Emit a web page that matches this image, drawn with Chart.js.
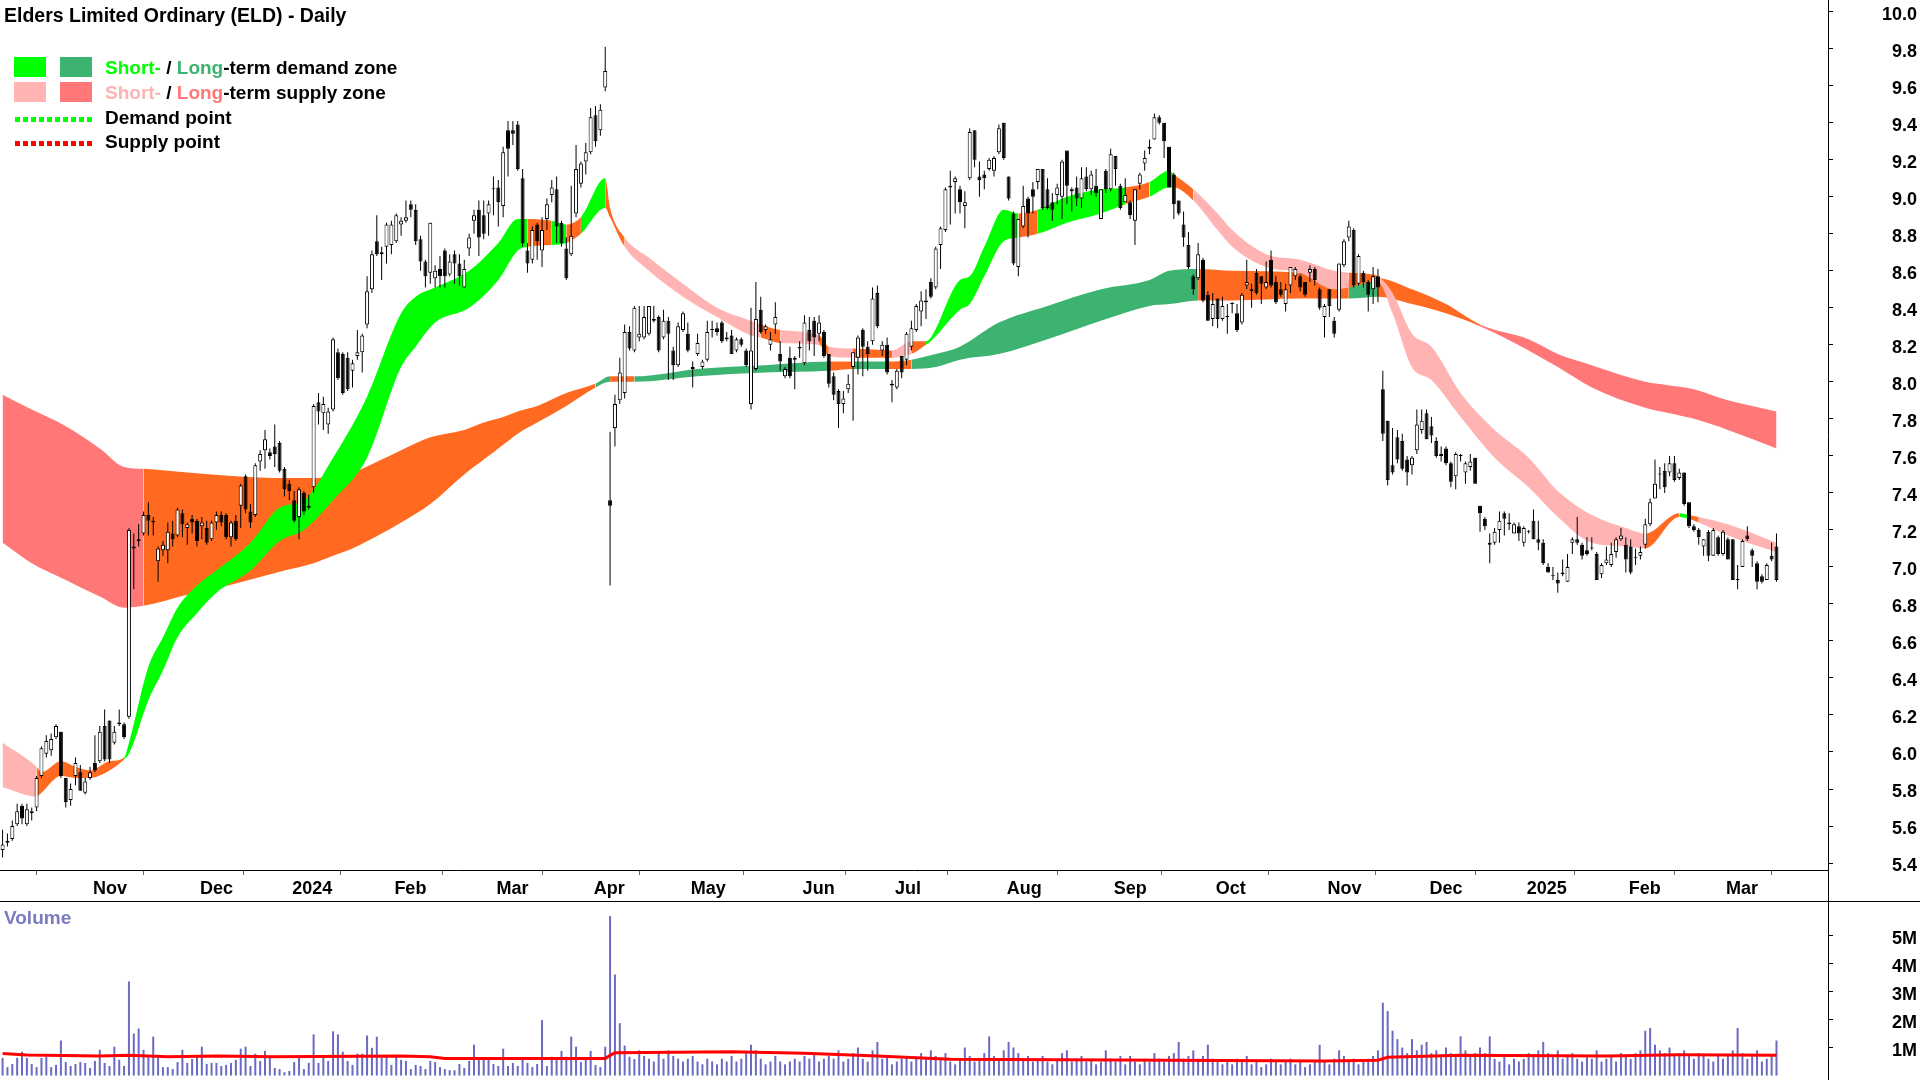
<!DOCTYPE html>
<html>
<head>
<meta charset="utf-8">
<title>Elders Limited Ordinary (ELD) - Daily</title>
<script src="https://cdn.jsdelivr.net/npm/chart.js@4.4.1/dist/chart.umd.min.js"></script>
<style>
  html, body { margin: 0; padding: 0; background: #fff; }
  body { width: 1920px; height: 1080px; position: relative; overflow: hidden;
         font-family: "Liberation Sans", Arial, sans-serif; font-weight: bold; color: #000; }
  canvas { display: block; }
  #pricePane { position: absolute; left: 0; top: 0; width: 1920px; height: 902px; }
  #volPane { position: absolute; left: 0; top: 902px; width: 1920px; height: 178px; }
  #sep { position: absolute; left: 0; top: 901px; width: 1920px; height: 1px; background: #000; }
  .txt { position: absolute; white-space: nowrap; }
  #title { left: 4px; top: 4px; font-size: 19.5px; line-height: 22px; }
  .sw { position: absolute; width: 32px; height: 20px; }
  .dots { position: absolute; left: 15px; width: 78px; height: 5px; }
  .leg { left: 105px; font-size: 19px; line-height: 20px; }
  #volLabel { left: 4px; top: 908px; font-size: 19px; line-height: 20px; color: #7b7bc0; }
</style>
</head>
<body>
<div id="pricePane"><canvas id="priceChart" width="1920" height="902"></canvas></div>
<div id="volPane"><canvas id="volChart" width="1920" height="178"></canvas></div>
<div id="sep"></div>

<div class="txt" id="title">Elders Limited Ordinary (ELD) - Daily</div>
<div class="sw" style="left:14px;top:57px;background:#00ff00"></div>
<div class="sw" style="left:60px;top:57px;background:#3cb371"></div>
<div class="sw" style="left:14px;top:82px;background:#ffb3b3"></div>
<div class="sw" style="left:60px;top:82px;background:#ff7777"></div>
<div class="dots" style="top:117px;background:repeating-linear-gradient(to right,#00ff00 0 5px,transparent 5px 8px)"></div>
<div class="dots" style="top:141px;background:repeating-linear-gradient(to right,#ff0000 0 5px,transparent 5px 8px)"></div>
<div class="txt leg" style="top:58px"><span style="color:#00ff00">Short-</span> / <span style="color:#3cb371">Long</span>-term demand zone</div>
<div class="txt leg" style="top:83px"><span style="color:#ffb3b3">Short-</span> / <span style="color:#ff7777">Long</span>-term supply zone</div>
<div class="txt leg" style="top:108px">Demand point</div>
<div class="txt leg" style="top:132px">Supply point</div>
<div class="txt" id="volLabel">Volume</div>

<script>
// daily candles, index 0 = first trading day shown (Oct 2023)
const opens = [
  5.47,5.51,5.53,5.61,5.71,5.61,5.67,5.70,5.87,5.99,
  6.01,6.08,6.11,5.86,5.74,5.87,5.89,5.78,5.86,5.94,
  5.95,6.14,6.17,6.05,6.15,6.15,6.19,7.11,7.14,7.18,
  7.28,7.25,7.03,7.09,7.09,7.18,7.17,7.29,7.21,7.26,
  7.25,7.22,7.21,7.15,7.24,7.28,7.28,7.16,7.25,7.33,
  7.49,7.30,7.28,7.57,7.63,7.62,7.65,7.67,7.53,7.45,
  7.36,7.27,7.40,7.33,7.43,7.89,7.83,7.77,7.85,8.16,
  8.15,8.13,8.06,8.14,8.16,8.31,8.50,8.76,8.70,8.73,
  8.74,8.76,8.85,8.87,8.96,8.93,8.77,8.65,8.59,8.56,
  8.61,8.71,8.58,8.69,8.64,8.51,8.72,8.87,8.93,8.90,
  8.91,9.04,9.05,8.95,9.36,9.36,9.39,9.10,8.71,8.66,
  8.85,8.71,8.88,9.01,9.04,8.86,8.72,8.69,8.91,9.07,
  9.19,9.24,9.44,9.36,9.59,7.36,7.75,7.90,7.94,8.27,
  8.17,8.24,8.24,8.26,8.34,8.35,8.24,8.33,8.17,8.09,
  8.28,8.26,8.08,8.15,8.08,8.12,8.28,8.29,8.32,8.23,
  8.25,8.17,8.23,8.17,7.88,8.07,8.39,8.28,8.20,8.31,
  8.15,8.03,8.13,8.13,8.18,8.10,8.28,8.33,8.26,8.27,
  8.15,8.03,7.95,7.88,7.96,8.08,8.13,8.28,8.19,8.22,
  8.48,8.17,8.20,7.98,7.97,8.14,8.12,8.19,8.28,8.38,
  8.43,8.54,8.51,8.74,8.82,9.05,9.08,9.04,8.95,9.10,
  9.36,9.11,9.12,9.15,9.14,9.24,9.40,9.11,8.91,8.62,
  8.84,8.99,9.04,9.08,9.15,9.04,8.97,9.01,9.00,9.25,
  9.04,9.05,8.99,9.11,9.04,9.06,8.88,9.14,9.04,9.22,
  9.06,8.97,8.97,8.87,9.07,9.18,9.26,9.31,9.43,9.40,
  9.27,9.12,8.98,8.85,8.74,8.57,8.56,8.66,8.47,8.34,
  8.45,8.34,8.35,8.42,8.37,8.32,8.52,8.50,8.59,8.57,
  8.51,8.66,8.54,8.50,8.42,8.52,8.57,8.57,8.54,8.59,
  8.61,8.50,8.35,8.50,8.33,8.39,8.63,8.78,8.82,8.53,
  8.59,8.54,8.50,8.57,7.96,7.79,7.55,7.70,7.68,7.58,
  7.55,7.63,7.74,7.83,7.76,7.68,7.60,7.64,7.56,7.49,
  7.60,7.51,7.54,7.59,7.33,7.26,7.12,7.13,7.20,7.29,
  7.24,7.18,7.22,7.13,7.19,7.25,7.15,7.13,7.00,6.95,
  6.93,6.96,6.92,7.13,7.15,7.12,7.09,7.10,7.07,6.96,
  7.02,7.01,7.08,7.15,7.12,7.11,7.05,7.06,7.12,7.23,
  7.37,7.50,7.52,7.51,7.56,7.48,7.51,7.35,7.22,7.20,
  7.11,7.19,7.06,7.16,7.07,7.15,7.15,6.93,7.00,7.17,
  7.09,7.02,6.95,6.93,7.06,7.11
];
const highs = [
  5.58,5.56,5.63,5.72,5.72,5.72,5.70,5.87,6.03,6.09,
  6.10,6.15,6.11,5.86,5.83,5.97,5.93,5.86,5.92,6.09,
  6.14,6.23,6.17,6.14,6.23,6.16,7.21,7.18,7.23,7.30,
  7.35,7.27,7.11,7.14,7.24,7.25,7.32,7.31,7.24,7.28,
  7.26,7.27,7.25,7.25,7.30,7.30,7.29,7.25,7.28,7.45,
  7.50,7.34,7.56,7.63,7.74,7.64,7.77,7.68,7.54,7.47,
  7.41,7.43,7.41,7.39,7.88,7.94,7.92,7.86,8.24,8.18,
  8.16,8.16,8.12,8.28,8.26,8.57,8.71,8.90,8.73,8.86,
  8.87,8.91,8.89,8.98,8.98,8.96,8.79,8.66,8.86,8.63,
  8.68,8.72,8.69,8.71,8.69,8.66,8.80,8.93,8.98,8.98,
  8.98,9.11,9.09,9.27,9.41,9.41,9.41,9.15,8.75,8.84,
  8.86,8.89,8.99,9.09,9.11,8.87,8.78,9.06,9.28,9.19,
  9.29,9.48,9.49,9.50,9.81,7.73,7.93,8.13,8.31,8.30,
  8.41,8.41,8.41,8.41,8.41,8.36,8.39,8.35,8.19,8.32,
  8.38,8.32,8.11,8.26,8.12,8.33,8.33,8.32,8.33,8.27,
  8.28,8.24,8.24,8.18,8.40,8.54,8.46,8.31,8.27,8.43,
  8.22,8.08,8.19,8.14,8.22,8.36,8.35,8.35,8.36,8.28,
  8.15,8.05,7.96,7.95,8.04,8.16,8.25,8.29,8.22,8.51,
  8.52,8.22,8.24,8.01,8.07,8.14,8.27,8.33,8.42,8.49,
  8.50,8.56,8.73,8.84,9.05,9.14,9.11,9.06,9.03,9.37,
  9.36,9.19,9.14,9.21,9.22,9.39,9.40,9.11,8.92,8.88,
  9.06,9.00,9.08,9.15,9.15,9.10,9.02,9.07,9.20,9.25,
  9.05,9.11,9.16,9.16,9.14,9.15,9.04,9.15,9.26,9.22,
  9.07,9.10,8.98,9.04,9.13,9.25,9.31,9.45,9.44,9.40,
  9.27,9.13,8.98,8.92,8.81,8.58,8.75,8.67,8.49,8.48,
  8.45,8.46,8.42,8.43,8.42,8.48,8.66,8.53,8.61,8.57,
  8.65,8.71,8.57,8.54,8.53,8.62,8.62,8.58,8.54,8.63,
  8.62,8.51,8.42,8.50,8.35,8.64,8.77,8.87,8.83,8.69,
  8.60,8.55,8.62,8.61,8.06,7.79,7.75,7.74,7.72,7.60,
  7.60,7.85,7.85,7.85,7.81,7.70,7.65,7.65,7.57,7.62,
  7.61,7.57,7.61,7.59,7.33,7.27,7.18,7.21,7.30,7.30,
  7.29,7.24,7.24,7.22,7.20,7.31,7.25,7.15,7.02,7.00,
  6.97,7.04,7.07,7.16,7.27,7.13,7.16,7.16,7.08,7.02,
  7.11,7.13,7.16,7.21,7.16,7.15,7.10,7.11,7.26,7.37,
  7.58,7.54,7.56,7.60,7.60,7.53,7.51,7.35,7.23,7.21,
  7.15,7.20,7.21,7.17,7.20,7.16,7.15,7.01,7.15,7.22,
  7.10,7.03,6.96,7.02,7.13,7.18
];
const lows = [
  5.43,5.49,5.52,5.60,5.61,5.60,5.63,5.68,5.86,5.97,
  5.98,6.07,5.86,5.70,5.71,5.82,5.79,5.77,5.85,5.89,
  5.94,5.95,5.94,6.04,6.14,6.07,6.18,6.88,7.11,7.17,
  7.17,7.17,6.92,7.06,7.02,7.11,7.16,7.16,7.12,7.18,
  7.11,7.15,7.12,7.14,7.20,7.22,7.15,7.11,7.14,7.21,
  7.29,7.21,7.27,7.52,7.53,7.58,7.54,7.51,7.38,7.36,
  7.24,7.15,7.28,7.31,7.40,7.77,7.74,7.72,7.84,8.01,
  7.93,7.95,7.97,8.12,8.05,8.29,8.48,8.68,8.55,8.64,
  8.69,8.75,8.79,8.86,8.89,8.74,8.60,8.51,8.53,8.51,
  8.51,8.51,8.57,8.53,8.52,8.51,8.68,8.80,8.68,8.77,
  8.79,8.90,8.84,8.89,9.11,9.28,9.14,8.73,8.59,8.64,
  8.66,8.62,8.82,8.97,8.75,8.73,8.55,8.68,8.89,9.05,
  9.12,9.23,9.27,9.33,9.57,6.90,7.65,7.88,7.91,8.17,
  8.16,8.22,8.23,8.25,8.32,8.16,8.23,8.01,8.01,8.08,
  8.27,8.16,7.97,8.14,8.07,8.11,8.24,8.25,8.21,8.22,
  8.15,8.16,8.19,8.08,7.85,8.06,8.26,8.26,8.17,8.26,
  8.06,8.02,8.02,7.96,8.13,8.09,8.17,8.14,8.22,8.13,
  7.97,7.90,7.75,7.83,7.94,7.79,8.04,8.03,8.06,8.20,
  8.29,8.14,8.04,7.89,7.96,8.02,8.09,8.17,8.27,8.30,
  8.34,8.45,8.50,8.61,8.81,8.85,8.91,8.91,8.83,9.09,
  9.16,9.00,9.04,9.14,9.11,9.23,9.20,8.98,8.63,8.57,
  8.83,8.78,8.91,9.04,8.93,8.93,8.87,8.96,8.88,8.96,
  8.92,8.95,8.94,9.03,9.01,9.00,8.88,9.02,9.03,9.06,
  8.93,8.97,8.88,8.74,9.04,9.14,9.23,9.31,9.39,9.21,
  9.05,8.88,8.90,8.73,8.61,8.47,8.55,8.43,8.33,8.30,
  8.29,8.33,8.26,8.37,8.27,8.31,8.50,8.40,8.47,8.42,
  8.50,8.51,8.42,8.46,8.38,8.48,8.55,8.49,8.46,8.54,
  8.52,8.39,8.24,8.35,8.24,8.38,8.62,8.76,8.51,8.52,
  8.51,8.38,8.42,8.43,7.68,7.44,7.50,7.56,7.52,7.44,
  7.50,7.61,7.72,7.69,7.67,7.59,7.57,7.55,7.43,7.42,
  7.57,7.45,7.52,7.45,7.19,7.20,7.02,7.12,7.13,7.17,
  7.20,7.18,7.14,7.11,7.18,7.15,7.09,7.01,6.97,6.93,
  6.86,6.95,6.92,7.07,7.12,7.04,7.06,7.09,6.93,6.94,
  7.01,7.00,7.05,7.14,6.97,6.96,7.01,7.04,7.10,7.22,
  7.37,7.42,7.40,7.49,7.46,7.47,7.33,7.21,7.19,7.12,
  7.06,7.03,7.06,7.06,7.06,7.04,6.93,6.88,7.00,7.14,
  7.00,6.88,6.91,6.93,7.03,6.92
];
const closes = [
  5.50,5.52,5.60,5.68,5.64,5.69,5.68,5.86,6.02,6.06,
  6.07,6.14,5.87,5.73,5.80,5.94,5.79,5.84,5.89,5.90,
  6.11,5.96,5.96,6.11,6.16,6.08,7.20,7.10,7.15,7.28,
  7.25,7.24,7.10,7.12,7.19,7.15,7.31,7.23,7.23,7.24,
  7.14,7.24,7.13,7.24,7.28,7.24,7.16,7.24,7.15,7.44,
  7.31,7.24,7.55,7.61,7.69,7.60,7.61,7.52,7.42,7.41,
  7.25,7.42,7.30,7.32,7.87,7.84,7.88,7.84,8.23,8.02,
  7.94,7.96,8.10,8.16,8.25,8.49,8.69,8.69,8.69,8.85,
  8.85,8.90,8.87,8.89,8.93,8.76,8.65,8.57,8.86,8.60,
  8.57,8.57,8.65,8.64,8.57,8.61,8.78,8.90,8.78,8.80,
  8.96,9.04,8.97,9.24,9.26,9.34,9.15,8.75,8.64,8.82,
  8.76,8.82,8.96,9.05,8.84,8.75,8.56,8.79,9.15,9.18,
  9.24,9.43,9.30,9.47,9.68,7.33,7.88,8.05,8.27,8.18,
  8.40,8.26,8.35,8.41,8.33,8.17,8.33,8.26,8.09,8.30,
  8.37,8.17,8.07,8.21,8.11,8.27,8.28,8.27,8.22,8.24,
  8.15,8.23,8.20,8.09,8.17,8.34,8.27,8.30,8.23,8.35,
  8.11,8.07,8.03,8.12,8.19,8.32,8.22,8.24,8.32,8.14,
  7.99,7.93,7.88,7.91,7.99,8.16,8.24,8.19,8.15,8.45,
  8.30,8.20,8.05,7.99,8.06,8.05,8.26,8.29,8.41,8.44,
  8.44,8.46,8.72,8.83,9.04,9.06,9.10,8.97,8.97,9.35,
  9.20,9.09,9.10,9.20,9.21,9.37,9.21,8.99,8.64,8.88,
  8.95,8.91,9.00,9.15,8.94,8.94,8.93,9.05,9.19,9.06,
  9.03,8.99,9.10,9.04,9.12,9.02,9.04,9.04,9.23,9.15,
  8.94,9.01,8.90,9.04,9.12,9.21,9.27,9.43,9.40,9.30,
  9.05,8.96,8.91,8.78,8.62,8.50,8.69,8.44,8.33,8.42,
  8.34,8.41,8.35,8.42,8.28,8.47,8.54,8.49,8.48,8.53,
  8.54,8.52,8.43,8.47,8.50,8.62,8.61,8.51,8.47,8.61,
  8.55,8.40,8.41,8.41,8.26,8.64,8.76,8.84,8.52,8.68,
  8.54,8.47,8.57,8.51,7.72,7.47,7.51,7.58,7.53,7.51,
  7.59,7.77,7.79,7.69,7.71,7.60,7.61,7.56,7.46,7.61,
  7.60,7.56,7.57,7.45,7.29,7.22,7.13,7.19,7.25,7.26,
  7.23,7.23,7.18,7.21,7.19,7.15,7.13,7.02,6.97,6.95,
  6.91,6.97,7.00,7.15,7.13,7.06,7.07,7.10,6.93,7.01,
  7.04,7.07,7.15,7.17,7.04,6.97,7.05,7.08,7.23,7.35,
  7.45,7.50,7.43,7.56,7.47,7.51,7.34,7.22,7.20,7.16,
  7.15,7.06,7.20,7.07,7.19,7.04,6.93,6.93,7.14,7.15,
  7.06,6.92,6.92,7.01,7.04,6.93
];
// daily volume, millions of shares
const volumes = [
  0.63,0.30,0.41,0.63,0.85,0.63,0.41,0.30,0.63,0.67,
  0.30,0.38,1.25,0.48,0.34,0.41,0.48,0.45,0.27,0.52,
  0.92,0.45,0.34,1.03,0.56,0.34,3.36,1.50,1.68,0.92,
  0.70,1.39,0.63,0.30,0.30,0.23,0.48,0.92,0.45,0.59,
  0.70,1.03,0.41,0.45,0.45,0.34,0.38,0.45,0.56,0.96,
  1.03,0.34,0.78,0.52,0.88,0.63,0.27,0.23,0.12,0.16,
  0.48,0.67,0.23,0.45,1.47,0.45,0.67,0.52,1.58,1.47,
  0.85,0.52,0.38,0.78,0.78,1.43,0.99,1.39,0.63,0.67,
  0.38,0.67,0.56,0.52,0.23,0.38,0.34,0.23,0.52,0.48,
  0.30,0.23,0.19,0.19,0.41,0.27,0.52,1.10,0.63,0.63,
  0.63,0.41,0.34,0.96,0.34,0.45,0.34,0.59,0.45,0.30,
  0.41,1.98,0.34,0.67,0.59,0.88,0.67,1.39,1.03,0.48,
  0.63,0.88,0.38,0.30,1.03,5.70,3.61,1.87,1.07,0.67,
  0.59,
  0.9,0.7,0.6,0.5,0.8,0.6,0.9,0.7,0.6,0.5,
  0.6,0.7,0.5,0.4,0.6,0.5,0.4,0.6,0.5,0.7,
  0.5,0.6,0.8,1.1,0.9,0.6,0.4,0.5,0.7,0.5,0.4,0.5,0.6,
  0.5,0.7,0.6,0.8,0.5,0.6,0.7,0.6,0.9,0.5,0.6,0.8,1.0,0.6,0.5,0.9,1.2,0.6,0.7,
  0.4,0.5,0.6,0.7,0.5,0.6,0.8,0.6,0.9,0.7,0.6,0.8,0.5,0.4,0.6,1.0,0.7,0.5,0.6,0.8,1.4,0.7,0.6,
  0.9,1.2,1.0,0.8,0.6,0.7,0.5,0.6,0.7,0.5,0.4,0.6,0.8,0.9,0.5,0.6,0.7,0.5,0.6,0.4,0.5,0.9,
  0.6,0.5,0.7,0.4,0.7,0.5,0.4,0.6,0.5,0.8,0.6,0.5,0.7,0.8,1.2,0.6,0.7,0.9,0.6,0.7,1.1,
  0.6,0.5,0.4,0.5,0.4,0.6,0.5,0.7,0.4,0.5,0.3,0.4,0.6,0.5,0.4,0.5,0.6,0.4,0.5,0.3,0.4,0.5,1.1,
  0.5,0.4,0.6,0.9,0.7,0.5,0.6,0.4,0.5,0.6,0.7,0.9,2.6,2.3,1.6,1.3,1.0,0.8,1.3,0.9,1.1,
  1.2,0.8,0.9,0.7,1.0,0.8,0.7,1.4,0.9,0.7,0.8,1.0,0.8,1.4,0.6,0.5,0.7,0.4,0.6,0.5,
  0.6,0.8,0.7,0.9,1.2,0.8,0.7,0.9,0.6,0.7,0.8,0.6,0.5,0.7,0.6,0.9,0.5,0.6,0.7,0.5,0.8,
  0.7,0.6,0.8,0.9,1.6,1.7,1.1,0.9,0.8,1.0,0.7,0.8,0.9,0.7,0.6,0.8,0.7,0.6,0.5,0.7,
  0.6,0.7,0.9,1.7,0.8,0.6,0.7,0.9,0.5,0.6,0.7,1.25
];
// volume moving average (M), read at these day indices
const maDay = [0,5,20,26,30,34,44,56,82,88,91,124,125,126,150,165,180,195,240,272,283,285,300,330,345,365];
const maVal = [0.79,0.73,0.70,0.72,0.70,0.67,0.70,0.67,0.70,0.67,0.61,0.61,0.72,0.81,0.85,0.80,0.70,0.58,0.55,0.52,0.55,0.65,0.72,0.70,0.74,0.72];

// long-term zone band: day index, upper edge, lower edge, zone type
const ltDay = [0,6,13,20,25,29,38,48,58,64,68,72,78,82,88,95,99,103,106,110,116,122,125,130,143,157,170,175,182,187,192,197,205,215,226,236,240,246,253,267,277,283,290,297,304,314,320,327,338,343,348,355,365];
const ltTop = [7.93,7.85,7.76,7.64,7.54,7.53,7.51,7.49,7.48,7.48,7.49,7.51,7.58,7.63,7.70,7.74,7.78,7.81,7.84,7.87,7.94,7.99,8.03,8.03,8.07,8.09,8.11,8.11,8.11,8.12,8.15,8.19,8.32,8.41,8.50,8.55,8.60,8.61,8.60,8.59,8.55,8.56,8.50,8.42,8.31,8.23,8.15,8.09,8.00,7.98,7.96,7.90,7.84];
const ltBot = [7.13,7.02,6.93,6.84,6.78,6.79,6.85,6.91,6.98,7.02,7.06,7.10,7.18,7.24,7.34,7.50,7.58,7.66,7.72,7.78,7.87,7.97,8.00,8.00,8.03,8.05,8.06,8.07,8.07,8.07,8.08,8.12,8.15,8.23,8.33,8.41,8.42,8.44,8.44,8.45,8.45,8.46,8.42,8.37,8.30,8.17,8.08,7.97,7.86,7.83,7.80,7.74,7.64];
const ltZone = ['LS','LS','LS','LS','LS','O','O','O','O','O','O','O','O','O','O','O','O','O','O','O','O','LD','O','LD','LD','LD','O','LD','O','LD','LD','LD','LD','LD','LD','LD','LD','O','O','O','LD','O','O','O','LS','LS','LS','LS','LS','LS','LS','LS','LS'];

// short-term zone band
const stDay = [0,7,8,12,15,18,22,25,26,30,33,36,40,44,51,57,62,68,75,82,85,89,96,102,106,108,113,116,119,124,125,128,133,140,147,154,156,160,168,170,175,183,187,190,191,197,199,202,206,209,213,219,226,231,236,240,241,245,250,253,260,267,274,277,282,283,286,290,294,300,307,314,320,327,334,338,345,347,349,355,365];
const stTop = [6.05,5.92,5.89,5.95,5.92,5.90,5.95,5.97,6.05,6.46,6.62,6.78,6.90,6.98,7.13,7.32,7.36,7.59,7.92,8.37,8.46,8.51,8.60,8.75,8.88,8.88,8.87,8.85,8.89,9.10,8.94,8.78,8.67,8.53,8.40,8.33,8.31,8.28,8.25,8.19,8.18,8.17,8.22,8.22,8.24,8.55,8.57,8.73,8.93,8.91,8.93,9.00,9.04,9.05,9.08,9.14,9.12,9.04,8.91,8.82,8.69,8.66,8.60,8.59,8.58,8.57,8.48,8.26,8.19,7.94,7.74,7.59,7.41,7.28,7.21,7.18,7.29,7.28,7.27,7.23,7.13];
const stBot = [5.81,5.76,5.78,5.87,5.86,5.86,5.90,5.96,5.99,6.28,6.44,6.62,6.75,6.86,6.98,7.14,7.20,7.36,7.59,8.08,8.19,8.32,8.40,8.55,8.71,8.73,8.74,8.75,8.80,8.94,8.89,8.73,8.60,8.46,8.35,8.25,8.24,8.21,8.20,8.14,8.13,8.13,8.15,8.20,8.22,8.39,8.42,8.57,8.76,8.78,8.80,8.86,8.91,8.96,9.00,9.05,9.05,8.98,8.82,8.73,8.62,8.59,8.50,8.51,8.54,8.54,8.37,8.08,8.01,7.81,7.59,7.43,7.27,7.13,7.11,7.10,7.27,7.26,7.24,7.17,7.08];
const stZone = ['SS','O','O','O','O','O','O','SD','SD','SD','SD','SD','SD','SD','SD','SD','SD','SD','SD','SD','SD','SD','SD','SD','SD','O','SD','O','SD','O','O','SS','SS','SS','SS','SS','O','SS','O','SS','O','SS','O','SD','SD','SD','SD','SD','SD','O','SD','SD','SD','O','SD','SD','O','SS','SS','SS','SS','SS','SS','O','O','SS','SS','SS','SS','SS','SS','SS','SS','SS','SS','O','SD','O','SS','SS','SS'];

const monthDay = [18,40,59,80,101,121,141,164,183,206,228,249,272,293,313,334,354];
const monthLabels = ['Nov','Dec','2024','Feb','Mar','Apr','May','Jun','Jul','Aug','Sep','Oct','Nov','Dec','2025','Feb','Mar'];
const priceTicks = [5.4,5.6,5.8,6.0,6.2,6.4,6.6,6.8,7.0,7.2,7.4,7.6,7.8,8.0,8.2,8.4,8.6,8.8,9.0,9.2,9.4,9.6,9.8,10.0];
const volTicks = [1,2,3,4,5];

const zoneColors = { SD: '#00ff00', LD: '#3cb371', SS: '#ffb3b3', LS: '#ff7777', O: '#ff6a20' };
const font = { family: '"Liberation Sans", Arial, sans-serif', size: 18, weight: 'bold' };
const xMin = -0.53, xMax = 375.6;

const days = closes.map((c, i) => i);

function band(dayArr, vals, extra) {
  return Object.assign({
    type: 'line',
    data: dayArr.map((d, i) => ({ x: d, y: vals[i] })),
    borderWidth: 0, pointRadius: 0, pointHoverRadius: 0,
    cubicInterpolationMode: 'monotone', fill: false
  }, extra);
}

// shared time axis: day index, month ticks
function dayAxis(visible) {
  return {
    type: 'linear', min: xMin, max: xMax, offset: false, bounds: 'data',
    afterBuildTicks: s => { s.ticks = monthDay.map(v => ({ value: v })); },
    afterFit: s => { s.height = visible ? 32 : 0; s.paddingLeft = 0; s.paddingRight = 0; },
    ticks: { display: visible, callback: (v, i) => monthLabels[i], align: 'start', autoSkip: false,
             maxRotation: 0, minRotation: 0, padding: 3, labelOffset: 3, color: '#000', font },
    grid: { display: visible, drawOnChartArea: false, drawTicks: true, tickLength: 5, color: '#666' },
    border: { display: visible, color: '#000', width: 1 }
  };
}

function valueAxis(min, max, tickList, fmt) {
  return {
    position: 'right', min, max, bounds: 'data',
    afterBuildTicks: s => { s.ticks = tickList.map(v => ({ value: v })); },
    afterFit: s => { s.width = 89; s.paddingTop = 0; s.paddingBottom = 0; },
    ticks: { callback: fmt, crossAlign: 'far', padding: 4, labelOffset: 3, color: '#000', font },
    grid: { drawOnChartArea: false, drawTicks: true, tickLength: 5, color: '#000' },
    border: { display: true, color: '#000', width: 1 }
  };
}

// keeps the right axis line running down through the date strip
const axisStrip = {
  id: 'axisStrip',
  afterDraw(chart) {
    const ctx = chart.ctx;
    const x = Math.round(chart.scales.y.left) + 0.5;
    ctx.save();
    ctx.strokeStyle = '#000';
    ctx.lineWidth = 1;
    ctx.beginPath();
    ctx.moveTo(x, chart.chartArea.bottom);
    ctx.lineTo(x, chart.height);
    ctx.stroke();
    ctx.restore();
  }
};

const common = {
  responsive: false, animation: false, devicePixelRatio: 1, events: [],
  layout: { padding: { left: 0, right: 3, top: 0, bottom: 0 }, autoPadding: false },
  plugins: { legend: { display: false }, tooltip: { enabled: false } }
};

new Chart(document.getElementById('priceChart'), {
  type: 'bar',
  data: {
    datasets: [
      band(ltDay, ltTop, { order: 40 }),
      band(ltDay, ltBot, { order: 39, fill: { target: 0 }, backgroundColor: zoneColors.O,
        segment: { backgroundColor: c => zoneColors[ltZone[c.p0DataIndex]] } }),
      band(stDay, stTop, { order: 30 }),
      band(stDay, stBot, { order: 29, fill: { target: 2 }, backgroundColor: zoneColors.O,
        segment: { backgroundColor: c => zoneColors[stZone[c.p0DataIndex]] } }),
      {
        type: 'bar', order: 2,
        data: days.map(i => ({ x: i, y: [lows[i], highs[i]] })),
        backgroundColor: '#000', borderWidth: 0,
        grouped: false, barThickness: 1, inflateAmount: 0
      },
      {
        type: 'bar', order: 1,
        data: days.map(i => ({ x: i, y: [Math.min(opens[i], closes[i]), Math.max(opens[i], closes[i])] })),
        backgroundColor: c => closes[c.dataIndex] >= opens[c.dataIndex] ? '#ffffff' : '#000000',
        borderColor: '#000', borderWidth: 1, borderSkipped: false,
        grouped: false, barThickness: 4, minBarLength: 1, inflateAmount: 0
      }
    ]
  },
  options: Object.assign({}, common, {
    scales: {
      x: dayAxis(true),
      y: valueAxis(5.3624, 10.0632, priceTicks, v => v.toFixed(1))
    }
  }),
  plugins: [axisStrip]
});

new Chart(document.getElementById('volChart'), {
  type: 'bar',
  data: {
    datasets: [
      { type: 'line', order: 0, data: maDay.map((d, i) => ({ x: d, y: maVal[i] })),
        borderColor: '#ff0000', borderWidth: 3, pointRadius: 0, fill: false },
      { type: 'bar', order: 1, data: volumes.map((v, i) => ({ x: i, y: v })),
        backgroundColor: '#6a6ac4', barThickness: 2, inflateAmount: 0 }
    ]
  },
  options: Object.assign({}, common, {
    scales: {
      x: dayAxis(false),
      y: valueAxis(-0.16, 6.2, volTicks, v => v + 'M')
    }
  })
});
</script>
</body>
</html>
